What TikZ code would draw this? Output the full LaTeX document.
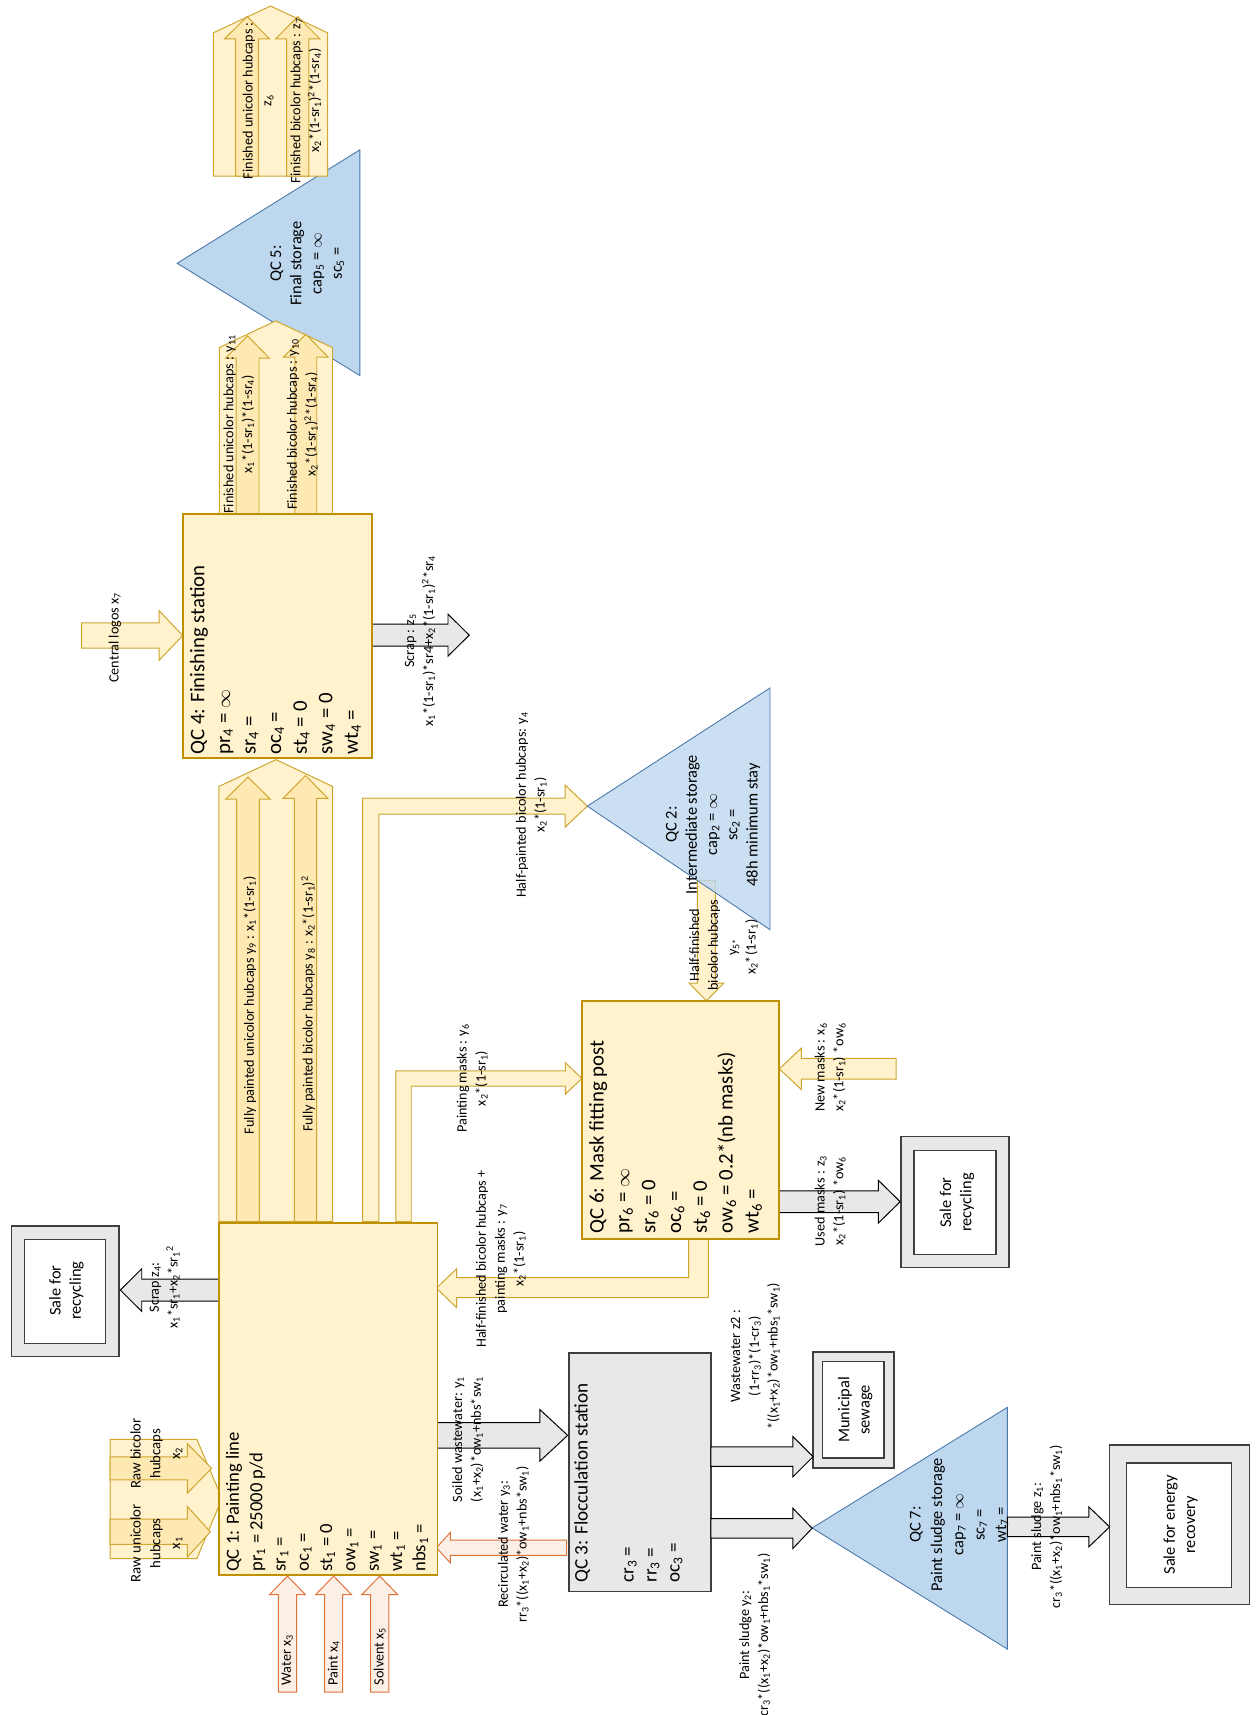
\documentclass[tikz,border=0pt]{standalone}
\usepackage{fontspec}
\setmainfont{Carlito}
\usetikzlibrary{calc}
\newcommand\lsub[1]{\textsubscript{#1}}
\newcommand\lsup[1]{\textsuperscript{#1}}
\definecolor{yfill}{HTML}{FFF2CC}
\definecolor{yin}{HTML}{FFE9B3}
\definecolor{yline}{HTML}{BF9000}
\definecolor{yaline}{HTML}{CFA52E}
\definecolor{gfill}{HTML}{E8E8E8}
\definecolor{gline}{HTML}{3F3F3F}
\definecolor{ofill}{HTML}{FCEFE6}
\definecolor{oline}{HTML}{E0733A}
\definecolor{bfill}{HTML}{BDD7EE}
\definecolor{bline}{HTML}{4A78AC}
% horizontal block arrow: style, x start, x head base, x tip, y centre, shaft half, head half
\newcommand\harrow[7]{\draw[#1] (#2,{#5-#6}) -- (#3,{#5-#6}) -- (#3,{#5-#7}) -- (#4,#5) -- (#3,{#5+#7}) -- (#3,{#5+#6}) -- (#2,{#5+#6}) -- cycle;}
% vertical block arrow: style, y start, y head base, y tip, x centre, shaft half, head half
\newcommand\varrow[7]{\draw[#1] ({#5-#6},#2) -- ({#5-#6},#3) -- ({#5-#7},#3) -- (#5,#4) -- ({#5+#7},#3) -- ({#5+#6},#3) -- ({#5+#6},#2) -- cycle;}
\begin{document}
\begin{tikzpicture}[x=1pt,y=-1pt,
  ybox/.style={draw=yline, fill=yfill, line width=1.8pt, inner sep=0pt},
  gbox/.style={draw=gline, fill=gfill, line width=1.4pt, inner sep=0pt},
  wbox/.style={draw=gline, fill=white, line width=1.1pt, inner sep=0pt},
  yarr/.style={draw=yaline, fill=yfill, line width=0.9pt},
  yinarr/.style={draw=yaline, fill=yin, line width=0.9pt},
  garr/.style={draw=black, fill=gfill, line width=0.9pt},
  oarr/.style={draw=oline, fill=ofill, line width=0.9pt},
  tri/.style={draw=bline, fill=bfill, line width=0.8pt},
  qct/.style={rotate=90, anchor=north west, align=left, inner sep=0pt},
  lbl/.style={rotate=90, align=center, inner sep=0pt, font=\fontsize{13}{17.2}\selectfont},
  blbl/.style={rotate=90, align=center, inner sep=0pt, font=\fontsize{15}{18.5}\selectfont},
]
\fill[white] (0,0) rectangle (1150,1568);
\useasboundingbox (0,0) rectangle (1150,1568);

% ---------- triangles (storage) ----------
\draw[tri] (162,240.7) -- (329,137) -- (329,343.4) -- cycle;
\draw[tri] (742.5,1397) -- (921,1286.7) -- (921,1507.7) -- cycle;

% ---------- gray end boxes ----------
\node[gbox, minimum width=98.2pt, minimum height=119pt] (saleL) at (59.6,1180.5) {};
\node[wbox, minimum width=73.8pt, minimum height=94.4pt] (saleLi) at (59.6,1180.8) {};
\node[gbox, minimum width=98.3pt, minimum height=120pt] (saleR) at (873.15,1099) {};
\node[wbox, minimum width=75.1pt, minimum height=95.7pt] (saleRi) at (873.15,1099.45) {};
\node[gbox, minimum width=74pt, minimum height=106pt] (sewage) at (780.4,1289) {};
\node[wbox, minimum width=56pt, minimum height=88pt] (sewagei) at (780.2,1289) {};
\node[gbox, minimum width=127.8pt, minimum height=146pt] (energy) at (1078.4,1394) {};
\node[wbox, minimum width=96pt, minimum height=113.7pt] (energyi) at (1078,1394.45) {};
\node[gbox, minimum width=130pt, minimum height=218pt] (qc3) at (585,1346) {};

% ---------- arrows ----------
% top finished group (out of QC5)
\draw[yarr] (195,161) -- (195,30) -- (247.4,5.5) -- (299.5,30) -- (299.5,161) -- cycle;
\varrow{yinarr}{161}{35.6}{15.2}{225.8}{10.4}{20.6}
\varrow{yinarr}{161}{35.6}{15.2}{272.2}{10.25}{20.25}
% finished group QC4 -> QC5
\draw[yarr] (200.5,470) -- (200.5,317.8) -- (252,293.4) -- (304,317.8) -- (304,470) -- cycle;
\varrow{yinarr}{470}{327.5}{307}{226.3}{10.5}{20}
\varrow{yinarr}{470}{326.6}{305.6}{279.6}{10}{20.5}
% fully painted group QC1 -> QC4
\draw[yarr] (200.2,1117) -- (200.2,719) -- (252.3,694.5) -- (304.1,719) -- (304.1,1117) -- cycle;
\varrow{yinarr}{1117}{730.7}{710.5}{226.7}{10.4}{20.5}
\varrow{yinarr}{1117}{730}{709}{279.3}{10.25}{20.5}
% half-painted y4 (QC1 -> QC2)
\draw[yarr] (331.5,1117) -- (331.5,729.7) -- (516.6,729.7) -- (516.6,717.7) -- (537,737) -- (516.6,756.3) -- (516.6,744.3) -- (346.5,744.3) -- (346.5,1117) -- cycle;
% painting masks y6 (QC1 -> QC6)
\draw[yarr] (362,1117) -- (362,979) -- (516.8,979) -- (516.8,971.5) -- (532,986) -- (516.8,1000.5) -- (516.8,993) -- (376,993) -- (376,1117) -- cycle;
% half-finished + masks y7 (QC6 -> QC1)
\draw[yarr] (629.6,1133) -- (629.6,1168) -- (417.4,1168) -- (417.4,1160) -- (399,1177.8) -- (417.4,1195.5) -- (417.4,1186.4) -- (647.7,1186.4) -- (647.7,1133) -- cycle;
% central logos
\harrow{yarr}{74.6}{145.4}{167}{581}{11.5}{22.8}
% scrap z5
\harrow{garr}{340}{409.6}{429}{580.7}{10.1}{19.2}
% raw hubcaps group
\draw[yarr] (100.7,1316) -- (180,1316) -- (203,1370) -- (180,1425) -- (100.7,1425) -- cycle;
\harrow{yinarr}{100.7}{171.4}{193.4}{1342.5}{10.5}{22.5}
\harrow{yinarr}{100.7}{171.4}{192.3}{1400.5}{11.5}{23}
% scrap z4
\harrow{garr}{200}{129.6}{110}{1179.5}{10}{19.5}
% water, paint, solvent
\varrow{oarr}{1547}{1458}{1441}{262.8}{8.3}{16.5}
\varrow{oarr}{1547}{1458}{1441}{305}{8.3}{16.5}
\varrow{oarr}{1547}{1458}{1441}{347.2}{8.3}{16.5}
% soiled wastewater
\harrow{garr}{400}{493.7}{519}{1312.3}{11.7}{23.5}
% recirculated water
\harrow{oarr}{518}{411.8}{399}{1415}{7}{14}
% new masks, used masks
\harrow{yarr}{819.3}{732.6}{712.5}{977.2}{9.5}{18.9}
\harrow{garr}{712}{803}{823}{1098.7}{9.9}{19.6}
% wastewater z2, paint sludge y2, paint sludge z1
\harrow{garr}{650}{725}{743.4}{1331.8}{8.9}{18.4}
\harrow{garr}{650}{725}{742.5}{1397.3}{8.9}{18.3}
\harrow{garr}{921}{995.5}{1014.5}{1396}{9}{18.25}
% half-finished y5 (QC2 -> QC6), under QC2
\varrow{yarr}{805}{898.8}{915}{645.9}{8.25}{15.9}
\draw[tri, fill opacity=0.8] (537,737) -- (704,629) -- (704,850) -- cycle;

% ---------- yellow stations ----------
\node[ybox, minimum width=200pt, minimum height=322pt] (qc1) at (300,1279) {};
\node[ybox, minimum width=173pt, minimum height=223pt] (qc4) at (253.5,581.5) {};
\node[ybox, minimum width=180pt, minimum height=218pt] (qc6) at (622,1024) {};

% ---------- station texts ----------
\node[qct, font=\fontsize{17}{21.3}\selectfont] (qc1t) at (206.5,1437) {QC 1: Painting line\\pr\lsub{1} = 25000 p/d\\sr\lsub{1} =\\oc\lsub{1} =\\st\lsub{1} = 0\\ow\lsub{1} =\\sw\lsub{1} =\\wt\lsub{1} =\\nbs\lsub{1} =};
\node[qct, font=\fontsize{19}{23.4}\selectfont] (qc4t) at (173.5,690) {QC 4: Finishing station\\pr\lsub{4} = $\infty$\\sr\lsub{4} =\\oc\lsub{4} =\\st\lsub{4} = 0\\sw\lsub{4} = 0\\wt\lsub{4} =};
\node[qct, font=\fontsize{19}{23.6}\selectfont] (qc6t) at (538.5,1128) {QC 6: Mask fitting post\\pr\lsub{6} = $\infty$\\sr\lsub{6} = 0\\oc\lsub{6} =\\st\lsub{6} = 0\\ow\lsub{6} = 0.2*(nb masks)\\wt\lsub{6} =};
\node[qct, font=\fontsize{17.5}{21}\selectfont] (qc3t) at (525,1447) {QC 3: Flocculation station\\[21pt]cr\lsub{3} =\\rr\lsub{3} =\\oc\lsub{3} =};
\node[blbl] (qc5t) at (281,241) {QC 5:\\Final storage\\cap\lsub{5} = $\infty$\\sc\lsub{5} =};
\node[blbl] (qc2t) at (652,754) {QC 2:\\Intermediate storage\\cap\lsub{2} = $\infty$\\sc\lsub{2} =\\48h minimum stay};
\node[blbl, font=\fontsize{15}{19.5}\selectfont] (qc7t) at (877,1394) {QC 7:\\Paint sludge storage\\cap\lsub{7} = $\infty$\\sc\lsub{7} =\\wt\lsub{7} =};

% ---------- box texts ----------
\node[blbl] at (60.8,1180) {Sale for\\recycling};
\node[blbl] at (875,1099.5) {Sale for\\recycling};
\node[blbl] at (782,1289) {Municipal\\sewage};
\node[blbl] at (1079.4,1394) {Sale for energy\\recovery};

% ---------- arrow labels ----------
\node[lbl] at (236,92) {Finished unicolor hubcaps :\\z\lsub{6}};
\node[lbl] at (279.6,92) {Finished bicolor hubcaps : z\lsub{7}\\x\lsub{2}*(1-sr\lsub{1})\lsup{2}*(1-sr\lsub{4})};
\node[lbl] at (218.3,388) {Finished unicolor hubcaps : y\lsub{11}\\x\lsub{1}*(1-sr\lsub{1})*(1-sr\lsub{4})};
\node[lbl] at (276.3,388) {Finished bicolor hubcaps : y\lsub{10}\\x\lsub{2}*(1-sr\lsub{1})\lsup{2}*(1-sr\lsub{4})};
\node[lbl] at (105,583) {Central logos x\lsub{7}};
\node[lbl] at (384,586) {Scrap : z\lsub{5}\\x\lsub{1}*(1-sr\lsub{1})*sr4+x\lsub{2}*(1-sr\lsub{1})\lsup{2}*sr\lsub{4}};
\node[lbl] at (228.5,919) {Fully painted unicolor hubcaps y\lsub{9} : x\lsub{1}*(1-sr\lsub{1})};
\node[lbl] at (281.7,918) {Fully painted bicolor hubcaps y\lsub{8} : x\lsub{2}*(1-sr\lsub{1})\lsup{2}};
\node[lbl] at (485.8,736) {Half-painted bicolor hubcaps: y\lsub{4}\\x\lsub{2}*(1-sr\lsub{1})};
\node[lbl] at (644.3,864) {Half-finished\\bicolor hubcaps};
\node[lbl] at (680,866) {y\lsub{5*}\\x\lsub{2}*(1-sr\lsub{1})};
\node[lbl] at (431.7,986) {Painting masks : y\lsub{6}\\x\lsub{2}*(1-sr\lsub{1})};
\node[lbl] at (759,976) {New masks : x\lsub{6}\\x\lsub{2}*(1-sr\lsub{1}) *ow\lsub{6}};
\node[lbl] at (759,1098) {Used masks : z\lsub{3}\\x\lsub{2}*(1-sr\lsub{1}) *ow\lsub{6}};
\node[lbl] at (457.9,1151) {Half-finished bicolor hubcaps +\\painting masks : y\lsub{7}\\x\lsub{2}*(1-sr\lsub{1})};
\node[lbl] at (150.5,1177) {Scrap z\lsub{4}:\\x\lsub{1}*sr\lsub{1}+x\lsub{2}*sr\lsub{1}\lsup{2}};
\node[lbl, font=\fontsize{13.5}{18}\selectfont] at (143,1329) {Raw bicolor\\hubcaps\\x\lsub{2}};
\node[lbl, font=\fontsize{13.5}{18}\selectfont] at (143,1411) {Raw unicolor\\hubcaps\\x\lsub{1}};
\node[lbl, anchor=west] at (262.8,1541) {Water x\lsub{3}};
\node[lbl, anchor=west] at (305,1541) {Paint x\lsub{4}};
\node[lbl, anchor=west] at (347.2,1541) {Solvent x\lsub{5}};
\node[lbl] at (427.4,1316) {Soiled wastewater: y\lsub{1}\\(x\lsub{1}+x\lsub{2})*ow\lsub{1}+nbs*sw\lsub{1}};
\node[lbl] at (469.3,1412) {Recirculated water y\lsub{3}:\\rr\lsub{3}*((x\lsub{1}+x\lsub{2})*ow\lsub{1}+nbs*sw\lsub{1})};
\node[lbl] at (690.5,1240) {Wastewater z2 :\\(1-rr\lsub{3})*(1-cr\lsub{3})\\*((x\lsub{1}+x\lsub{2})*ow\lsub{1}+nbs\lsub{1}*sw\lsub{1})};
\node[lbl] at (690,1495) {Paint sludge y\lsub{2}:\\cr\lsub{3}*((x\lsub{1}+x\lsub{2})*ow\lsub{1}+nbs\lsub{1}*sw\lsub{1})};
\node[lbl] at (957,1396) {Paint sludge z\lsub{1}:\\cr\lsub{3}*((x\lsub{1}+x\lsub{2})*ow\lsub{1}+nbs\lsub{1}*sw\lsub{1})};
\end{tikzpicture}
\end{document}
